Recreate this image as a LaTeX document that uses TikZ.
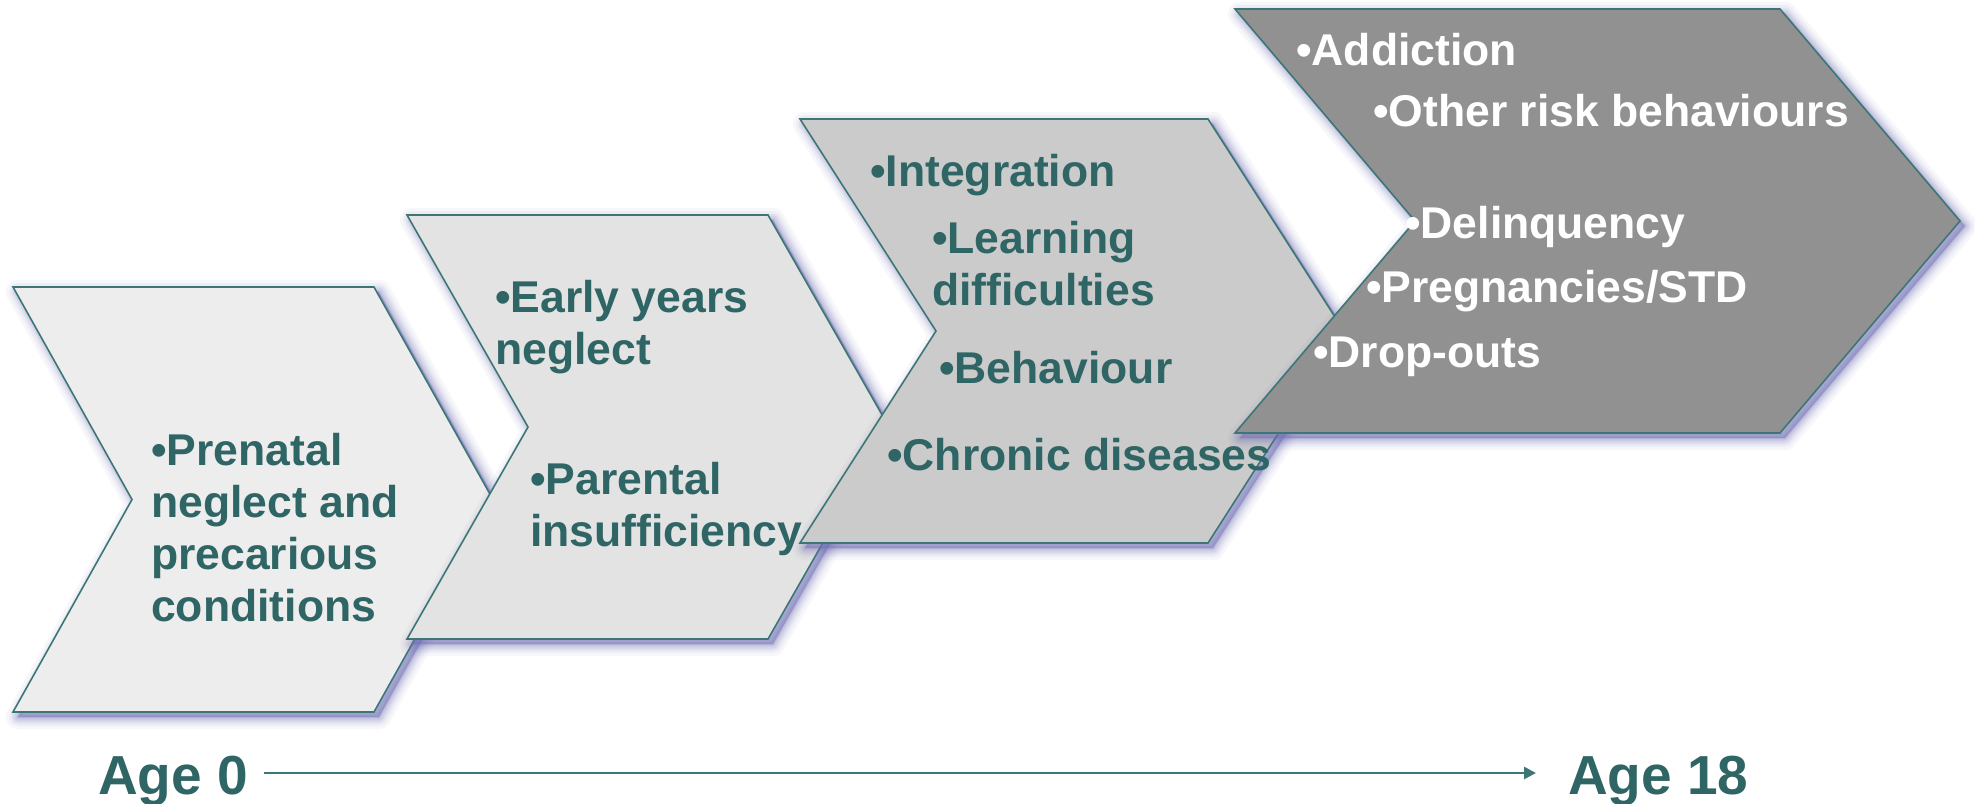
\documentclass[tikz,border=0pt]{standalone}
\usepackage{fontspec}
\setmainfont{Liberation Sans}
\usetikzlibrary{arrows.meta}

\definecolor{tealtext}{RGB}{47,101,101}
\definecolor{tealline}{RGB}{62,118,118}
\definecolor{shadowc}{RGB}{110,110,180}
\definecolor{fillA}{RGB}{237,237,237}
\definecolor{fillB}{RGB}{227,227,227}
\definecolor{fillC}{RGB}{203,203,203}
\definecolor{fillD}{RGB}{145,145,145}

% chevron: x, y (top-left), top width, height, point depth, fill colour
\newcommand\chevron[6]{%
  \foreach \lw/\op in {24/0.05,18/0.07,13/0.09,9/0.11,5/0.13,2/0.15}{%
    \draw[shadowc, line width=\lw pt, opacity=\op, line join=round, xshift=5pt, yshift=-5pt]
      (#1,#2) -- ++(#3,0) -- ++(#5,#4/2) -- ++(-#5,#4/2) -- ++(-#3,0) -- ++(#5,-#4/2) -- cycle;
  }
  \fill[shadowc, opacity=0.5, xshift=5pt, yshift=-5pt]
    (#1,#2) -- ++(#3,0) -- ++(#5,#4/2) -- ++(-#5,#4/2) -- ++(-#3,0) -- ++(#5,-#4/2) -- cycle;
  \filldraw[chev, fill=#6]
    (#1,#2) -- ++(#3,0) -- ++(#5,#4/2) -- ++(-#5,#4/2) -- ++(-#3,0) -- ++(#5,-#4/2) -- cycle;
}

\begin{document}
\begin{tikzpicture}[x=1pt,y=-1pt,
  chev/.style={draw=tealline, line width=1.6pt, line join=miter},
  lbl/.style={anchor=base west, inner sep=0pt, text=tealtext, align=left,
    font=\bfseries\fontsize{44.5}{52}\selectfont},
  lblw/.style={lbl, text=white},
  agelbl/.style={anchor=base west, inner sep=0pt, text=tealtext,
    font=\bfseries\fontsize{55}{60}\selectfont},
  timeline/.style={draw=tealline, line width=2.6pt, -{Triangle[length=12pt,width=12pt]}}]

\useasboundingbox (0,0) rectangle (1975,803);
\fill[white] (0,0) rectangle (1975,803);

% the four stages, each drawn over the previous one
\chevron{13}{287}{361}{425}{119}{fillA}
\chevron{407}{215}{361}{424}{121}{fillB}
\chevron{800}{119}{408}{424}{136}{fillC}
\chevron{1235}{9}{545}{424}{180}{fillD}

% stage texts (multi-line nodes are placed by the baseline of their last line)
\node[lbl] (prenatal) at (151,621) {•Prenatal\\neglect and\\precarious\\conditions};

\node[lbl] (early)    at (495,364) {•Early years\\neglect};
\node[lbl] (parental) at (530,546) {•Parental\\insufficiency};

\node[lbl] (integ)    at (870,186) {•Integration};
\node[lbl] (learn)    at (932,305) {•Learning\\difficulties};
\node[lbl] (behav)    at (939,383) {•Behaviour};
\node[lbl] (chronic)  at (887,470) {•Chronic diseases};

\node[lblw] (addict)  at (1296,65)  {•Addiction};
\node[lblw] (risk)    at (1373,126) {•Other risk behaviours};
\node[lblw] (delinq)  at (1405,238) {•Delinquency};
\node[lblw] (preg)    at (1366,302) {•Pregnancies/STD};
\node[lblw] (drop)    at (1313,367) {•Drop-outs};

% age axis
\node[agelbl] (age0)  at (98,794)   {Age 0};
\node[agelbl] (age18) at (1568,794) {Age 18};
\draw[timeline] ([xshift=16pt,yshift=21pt]age0.base east) -- ([xshift=-32pt,yshift=21pt]age18.base west);
\end{tikzpicture}
\end{document}
